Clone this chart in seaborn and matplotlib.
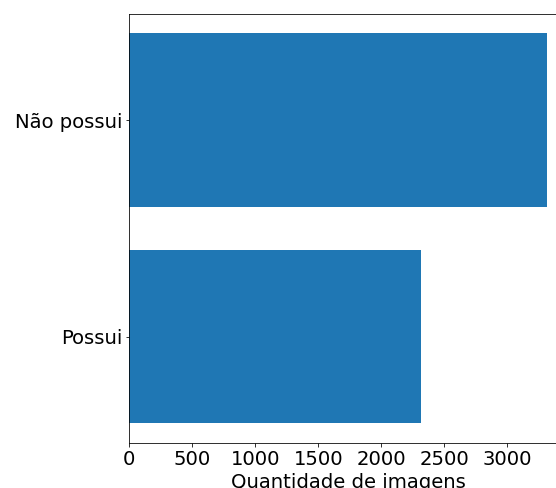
import matplotlib
matplotlib.use("Agg")
import matplotlib.pyplot as plt
import seaborn as sns
import pandas as pd

categorias = ["Não possui", "Possui"]
quantidades = [3313, 2315]

df = pd.DataFrame({"categoria": categorias, "quantidade": quantidades})

plt.rcParams["font.family"] = ["DejaVu Sans"]
DPI = 72
W, H = 556, 488
fig = plt.figure(figsize=(W / DPI, H / DPI), dpi=DPI)
ax = fig.add_axes([129.3 / W, (H - 442.7) / H, (567.6 - 129.3) / W, 428.7 / H])

sns.barplot(data=df, x="quantidade", y="categoria", orient="h",
            color="#1f77b4", saturation=1, width=0.8, ax=ax)

ax.set_ylabel("")
ax.set_xlabel("Quantidade de imagens", fontsize=19.6)
ax.tick_params(axis="both", labelsize=19.6)
ax.set_xticks([0, 500, 1000, 1500, 2000, 2500, 3000])
ax.set_xlim(0, 3313 * 1.05)
ax.set_ylim(1.49, -0.49)

fig.savefig("out.png", dpi=DPI)
